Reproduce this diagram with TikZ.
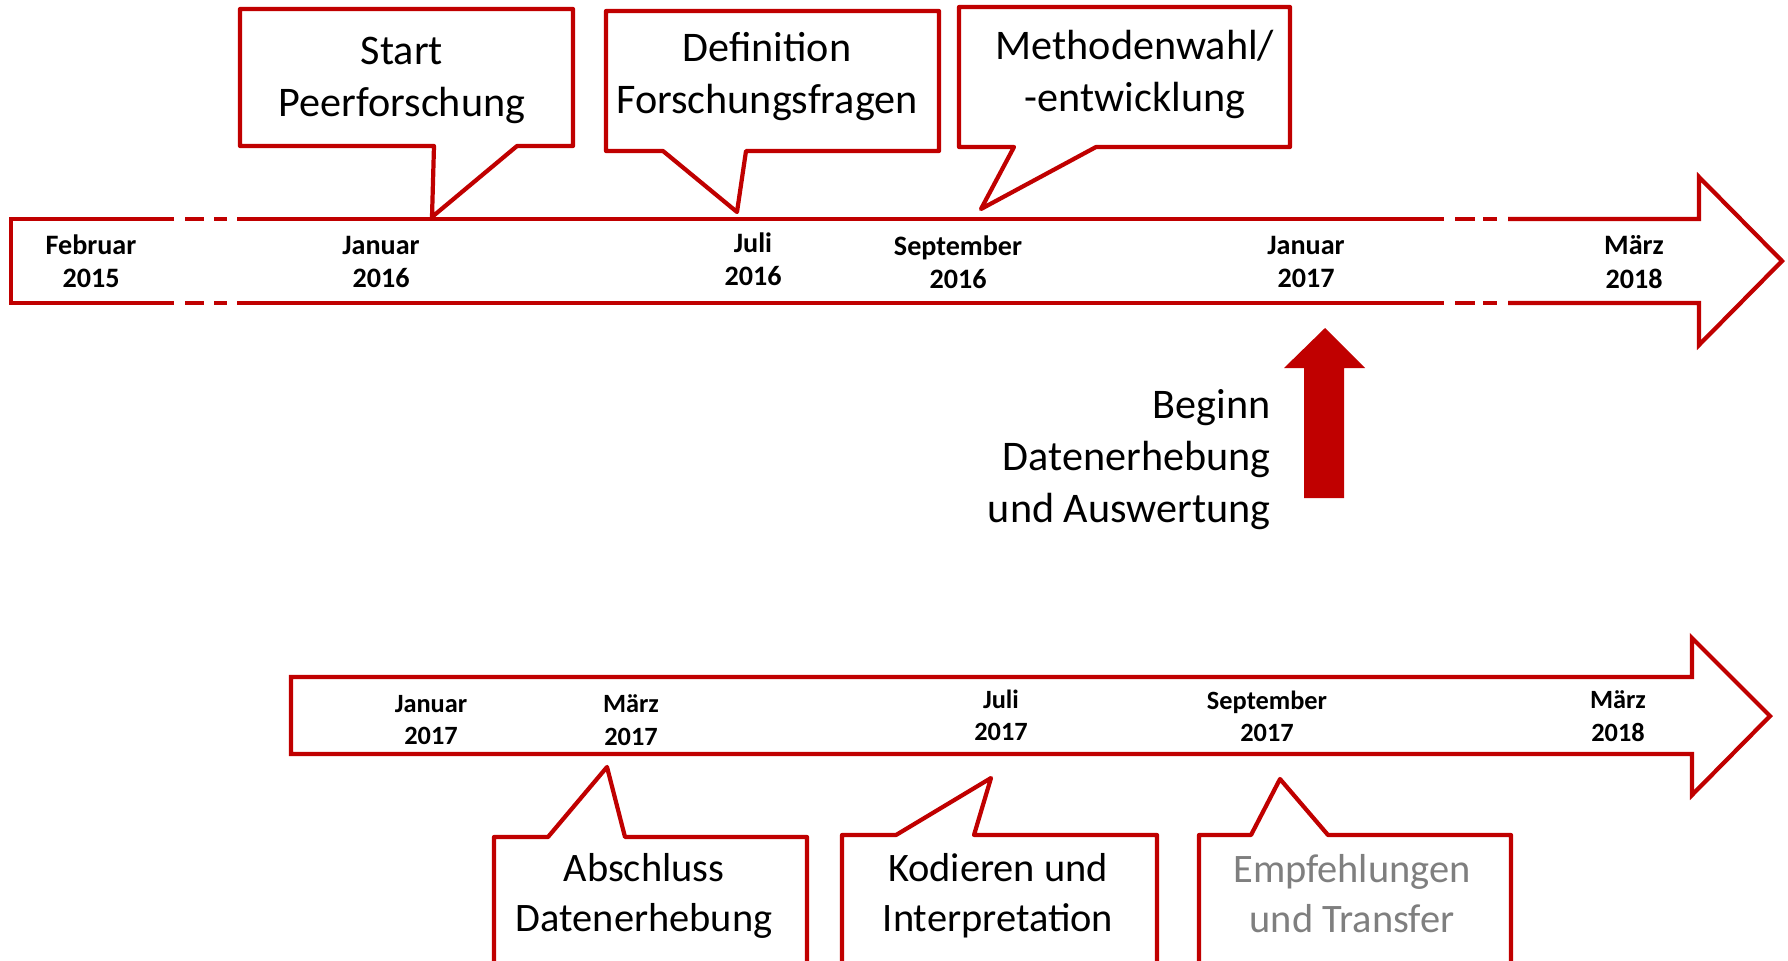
\documentclass[tikz,border=0pt]{standalone}
\usepackage{fontspec}
\setmainfont{Carlito}
\usepackage{xcolor}
\usepackage{tikz}
\usetikzlibrary{calc, positioning}
\definecolor{tlred}{HTML}{C00000}
\definecolor{tlgray}{HTML}{7F7F7F}

\begin{document}
\begin{tikzpicture}[x=0.1mm, y=-0.1mm,
    line/.style={tlred, line width=1.2pt, line join=miter},
    callout/.style={tlred, line width=1.2pt, line join=round, fill=white},
    datum/.style={align=center, font=\fontsize{8}{9.5}\selectfont\bfseries},
    udatum/.style={datum, font=\fontsize{7.5}{9.2}\selectfont\bfseries},
    bubble/.style={align=center, font=\fontsize{12}{14.8}\selectfont},
    ububble/.style={bubble, font=\fontsize{11.5}{14.2}\selectfont}]
    \useasboundingbox (0,0) rectangle (1788,960);
    \clip (0,0) rectangle (1788,960);

    % 1. Obere Zeitleiste (Pfeil mit Unterbrechungen)
    \draw[line] (174,219) -- (11,219) -- (11,303) -- (174,303);
    \foreach \y in {219,303} {
        \draw[line] (185,\y) -- (204,\y) (214,\y) -- (227,\y) (237,\y) -- (1444,\y)
                    (1455,\y) -- (1475,\y) (1483,\y) -- (1497,\y);
    }
    \draw[line] (1508,219) -- (1699,219) -- (1699,177) -- (1782,261)
                -- (1699,345) -- (1699,303) -- (1508,303);

    % Daten oben
    \node[datum] (feb15) at (91,261) {Februar\\2015};
    \node[datum] (jan16) at (381,262) {Januar\\2016};
    \node[datum] (jul16) at (753,259) {Juli\\2016};
    \node[datum] (sep16) at (958,262) {September\\2016};
    \node[datum] (jan17) at (1306,262) {Januar\\2017};
    \node[datum] (mar18) at (1634,262) {März\\2018};

    % 2. Sprechblasen oben
    \draw[callout] (240,9) -- (573,9) -- (573,146) -- (517,146) -- (432,217)
                   -- (434,146) -- (240,146) -- cycle;
    \node[bubble] (start) at (402,80) {Start\\Peerforschung};

    \draw[callout] (606,11) -- (939,11) -- (939,151) -- (746,151) -- (737,212)
                   -- (663,151) -- (606,151) -- cycle;
    \node[bubble] (deffrag) at (767,77) {Definition\\Forschungsfragen};

    \draw[callout] (959,7) -- (1290,7) -- (1290,147) -- (1096,147) -- (981,209)
                   -- (1014,147) -- (959,147) -- cycle;
    \node[bubble] (methode) at (1135,74) {Methodenwahl/\\-entwicklung};

    % 3. Beginn Datenerhebung (Blockpfeil)
    \fill[tlred] (1304,498) -- (1304,368) -- (1284,368) -- (1325,328)
                 -- (1365,368) -- (1344,368) -- (1344,498) -- cycle;
    \node[bubble, align=right, anchor=east] (beginn) at (1283,460)
        {Beginn\\Datenerhebung\\und Auswertung};

    % 4. Untere Zeitleiste
    \draw[line] (1692,677) -- (291,677) -- (291,754) -- (1692,754)
                -- (1692,795) -- (1770,716) -- (1692,638) -- cycle;

    % Daten unten
    \node[udatum] (ujan17) at (431,720) {Januar\\2017};
    \node[udatum] (umar17) at (631,720) {März\\2017};
    \node[udatum] (ujul17) at (1001,715) {Juli\\2017};
    \node[udatum] (usep17) at (1267,716) {September\\2017};
    \node[udatum] (umar18) at (1618,716) {März\\2018};

    % 5. Sprechblasen unten
    \draw[callout] (494,837) -- (548,837) -- (607,767) -- (625,837) -- (807,837)
                   -- (807,975) -- (494,975) -- cycle;
    \node[ububble] (abschluss) at (644,896) {Abschluss\\Datenerhebung};

    \draw[callout] (842,835) -- (896,835) -- (991,778) -- (974,835) -- (1157,835)
                   -- (1157,975) -- (842,975) -- cycle;
    \node[ububble] (kodieren) at (998,896) {Kodieren und\\Interpretation};

    \draw[callout] (1199,835) -- (1251,835) -- (1280,779) -- (1328,835) -- (1511,835)
                   -- (1511,975) -- (1199,975) -- cycle;
    \node[ububble, text=tlgray] (transfer) at (1352,894) {Empfehlungen\\und Transfer};

\end{tikzpicture}
\end{document}
